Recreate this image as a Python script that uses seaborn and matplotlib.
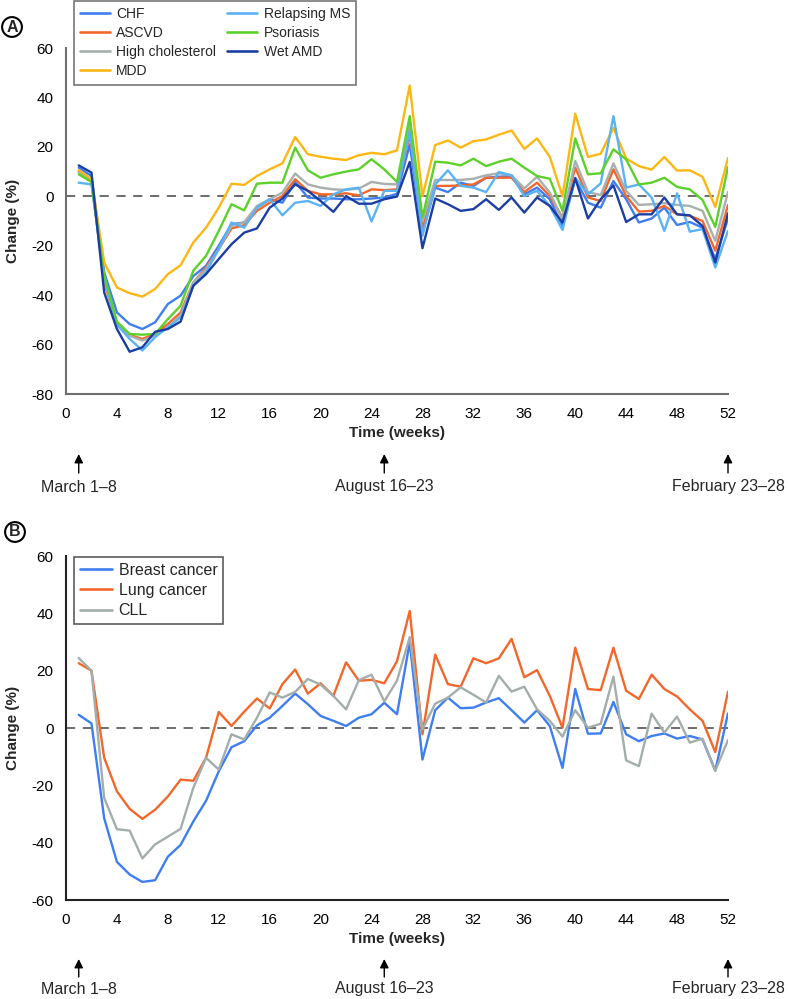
import numpy as np
import pandas as pd
import matplotlib
matplotlib.use("Agg")
import matplotlib.pyplot as plt
import matplotlib.transforms as mtransforms
from matplotlib.lines import Line2D
import seaborn as sns

sns.set_style("white")
plt.rcParams['font.family'] = ['Liberation Sans', 'DejaVu Sans']
plt.rcParams['axes.unicode_minus'] = False

weeks = list(range(1, 53))

# ---------- Panel A ----------
names_a = ["CHF", "ASCVD", "High cholesterol", "MDD", "Relapsing MS", "Psoriasis", "Wet AMD"]
colors_a = ["#3f7ef0", "#f4672a", "#a7b0af", "#fdb714", "#5ab3f4", "#5cd12a", "#1b3ea3"]

chf = [11.6, 8.2, -30.8, -47, -51.7, -53.7, -51, -43.6, -40.2, -32.3, -28.1, -20, -11.3, -10.6,
       -4.6, -1.2, -2.6, 5.8, -0.5, -0.9, -0.9, -1.2, -1.2, -0.9, -0.5, 1.0, 21, -14.7, 3.5, 1.7,
       5.5, 4.2, 7.5, 7.9, 8.2, 0.8, 3.5, -1.2, -12, 6.9, -2.6, -4.6, 6.2, -1.2, -10.6, -9, -4.6,
       -11.6, -10.4, -12.7, -25.4, -9]
ascvd = [10.2, 6.2, -34.9, -51.7, -56.1, -57.7, -55.7, -51.7, -47, -34.9, -28.8, -21.4, -13, -11.7,
         -5.9, -2.6, 0.1, 6.9, 2.2, 0.8, 0.8, 1.2, 0.4, 2.8, 2.5, 2.8, 25, -12.7, 4.2, 4.2, 4.4, 4.8,
         7.5, 7.5, 7.5, 1.7, 5.5, 0.1, -8.6, 11.6, -0.5, -1.9, 10.9, 0.1, -6.2, -5.9, -3.9, -7.3,
         -7.9, -10, -22, -3.5]
chol = [9.6, 6.2, -33.5, -52, -56.4, -58.4, -56.4, -53, -48.3, -34.9, -29.5, -21.4, -12, -10.6,
        -3.9, -1.2, 1.5, 9.2, 4.8, 3.5, 2.8, 2.6, 3.1, 5.8, 5.0, 4.8, 29, -10, 6.6, 6.6, 6.6, 7.1,
        8.5, 9.3, 8.5, 3.2, 7.9, 1.5, -9.3, 14.3, 1.7, 0.5, 13.3, 2.2, -3.5, -3.2, -2.8, -3.5,
        -3.9, -5.9, -18, 1.7]
mdd = [10.6, 6.9, -26.8, -36.9, -39.2, -40.6, -37.5, -31.5, -27.9, -18.7, -12.7, -4.6, 5.1, 4.6,
       8.2, 10.9, 13.3, 24, 17, 16, 15.2, 14.7, 16.6, 17.6, 17, 18.6, 44.8, 0, 20.7, 22.6, 19.7,
       22.3, 23, 24.9, 26.6, 19.2, 23.4, 16, 0, 33.4, 15.9, 17.2, 27.7, 15.3, 12.2, 10.8, 15.9,
       10.4, 10.5, 7.9, -4.3, 15.5]
rms = [5.5, 4.8, -33, -52, -57.7, -62.4, -57, -53, -49, -36.2, -30.8, -21.4, -10.6, -12.7, -4.6,
       -1.2, -7.7, -2.6, -1.9, -3.9, 0.8, 2.8, 3.5, -10.2, 2.2, 2.2, 26.4, -16, 4.8, 10.5, 4.2, 3.5,
       1.7, 9.8, 8.5, 0.1, 2.2, -3.9, -13.6, 7.5, 0.8, 5.2, 32.4, 3.5, 4.8, -0.5, -14, 1.2, -14.3,
       -13.3, -28.8, -14]
psoriasis = [8.9, 5.8, -32, -50.7, -55.7, -56, -55.7, -49.7, -44.3, -30.1, -24.1, -14, -3.2, -5.7,
             5.1, 5.5, 5.5, 19.7, 10.5, 7.5, 8.9, 10, 10.9, 15, 10.9, 5.8, 32.4, -8.6, 14, 13.6,
             12.5, 15.2, 12.2, 14, 15.2, 11.6, 8.2, 7.1, -5.9, 23.4, 8.9, 9.3, 19, 14.9, 4.8, 5.5,
             7.5, 3.8, 2.8, -1.5, -12.4, 11.8]
wetamd = [12.5, 9.6, -38.9, -53.7, -62.9, -61.1, -54.8, -53.7, -50.7, -36.2, -31.5, -25.4, -19.4,
          -14.7, -13, -4.6, -0.9, 4.8, 2.2, -1.9, -6.3, 0.1, -3, -3, -1.2, -0.1, 13.9, -21, -0.9,
          -3.2, -5.9, -5.2, -1.2, -5.5, -0.5, -6.6, -0.5, -3.9, -10.6, 7.3, -9, -1.2, 4.4, -10.4,
          -7.3, -7.3, -0.5, -7.3, -7.7, -12, -26.8, -6.9]
series_a = [chf, ascvd, chol, mdd, rms, psoriasis, wetamd]

# ---------- Panel B ----------
names_b = ["Breast cancer", "Lung cancer", "CLL"]
colors_b = ["#3f7ef0", "#f4672a", "#a3aeac"]

breast = [4.6, 1.6, -31.5, -46.7, -51.1, -53.7, -53.1, -44.9, -40.8, -32.6, -25.4, -15.1, -6.7,
          -4.6, 0.9, 3.6, 7.7, 12, 8.3, 4.2, 2.5, 0.7, 3.6, 4.8, 8.8, 4.8, 29.9, -11, 6.2, 10.6,
          6.9, 7.1, 8.9, 10.4, 6.2, 1.9, 6.2, 0.7, -13.9, 13.6, -2, -1.9, 9.1, -2.2, -4.6, -2.8,
          -1.9, -3.7, -2.8, -4, -14.9, 5.1]
lung = [22.6, 20, -10.4, -22.1, -28.2, -31.7, -28.5, -23.9, -18, -18.4, -10.4, 5.6, 0.7, 5.7,
        10.3, 6.8, 15.3, 20.4, 12, 15.6, 11.2, 22.9, 16.5, 16.8, 15.6, 23.3, 40.8, -2.2, 25.6, 15.3,
        14.4, 24.3, 22.6, 24.3, 31.1, 17.7, 20.2, 11.2, 0.1, 28, 13.6, 13.2, 28, 13, 10.1, 18.6,
        13.6, 11, 6.5, 2.5, -8.4, 12.7]
cll = [24.4, 20, -24.4, -35.3, -35.8, -45.5, -40.6, -37.9, -35.2, -20.9, -10.4, -14.5, -2.2, -4,
       3.6, 12.4, 10.6, 12.6, 17.1, 15.1, 11.2, 6.5, 16.7, 18.6, 9.3, 16.5, 31.7, -0.5, 8.5, 10.6,
       14.2, 11.6, 8.9, 18.2, 12.7, 14.4, 6.5, 2.5, -3, 6.2, 0.1, 1.5, 17.9, -11.3, -13.3, 5, -1.6,
       4, -5.1, -3.7, -14.9, -4.2]
series_b = [breast, lung, cll]

xticks = list(range(0, 53, 4))
yticks_a = [-80, -60, -40, -20, 0, 20, 40, 60]
yticks_b = [-60, -40, -20, 0, 20, 40, 60]
arrow_weeks = [1, 25, 52]
arrow_labels = ["March 1\u20138", "August 16\u201323", "February 23\u201328"]


def long_df(names, series):
    rows = []
    for n, s in zip(names, series):
        for w, v in zip(weeks, s):
            rows.append((n, w, v))
    return pd.DataFrame(rows, columns=["series", "week", "change"])


W, H = 788, 999
fig = plt.figure(figsize=(W / 100, H / 100), dpi=100)

ax_a = fig.add_axes([66 / W, 1 - 394 / H, 662 / W, 346 / H])
ax_b = fig.add_axes([66 / W, 1 - 900 / H, 662 / W, 344 / H])


def style_axis(ax, yticks, ylim, spine_color, names, colors, series, arrow_y):
    df = long_df(names, series)
    ax.axhline(0, color="#444444", lw=1.1, dashes=(6, 5), zorder=1)
    sns.lineplot(data=df, x="week", y="change", hue="series", hue_order=names,
                 palette=dict(zip(names, colors)), linewidth=1.7, legend=False,
                 ax=ax, zorder=2)
    ax.set_xlim(0, 52)
    ax.set_ylim(*ylim)
    ax.set_xticks(xticks)
    ax.set_yticks(yticks)
    ax.set_xticklabels([str(t) for t in xticks])
    ax.set_yticklabels([str(t) for t in yticks])
    for side in ["top", "right"]:
        ax.spines[side].set_visible(False)
    for side in ["left", "bottom"]:
        ax.spines[side].set_color(spine_color)
        ax.spines[side].set_linewidth(1.5)
    ax.tick_params(axis="both", direction="out", length=6, width=1.1, color=spine_color,
                   labelsize=11, pad=3, labelcolor="black")
    ax.set_xlabel("Time (weeks)", fontsize=11, fontweight="bold")
    ax.set_ylabel("Change (%)", fontsize=11, fontweight="bold")
    ax.xaxis.set_label_coords(0.5, arrow_y["xlabel"])
    ax.xaxis.label.set_verticalalignment("center")
    ax.yaxis.set_label_coords(arrow_y["ylabel"], 0.5)
    ax.yaxis.label.set_verticalalignment("center")
    trans = mtransforms.blended_transform_factory(ax.transData, ax.transAxes)
    for w, lab in zip(arrow_weeks, arrow_labels):
        ax.annotate("", xy=(w, arrow_y["tip"]), xycoords=trans,
                    xytext=(w, arrow_y["tail"]), textcoords=trans,
                    arrowprops=dict(arrowstyle="-|>", color="black", lw=1.0,
                                    mutation_scale=13, shrinkA=0, shrinkB=0),
                    annotation_clip=False)
        ax.text(w, arrow_y["text"], lab, transform=trans, ha="center", va="center",
                fontsize=11.5, clip_on=False)


style_axis(ax_a, yticks_a, (-80, 60), "#6e6e6e", names_a, colors_a, series_a,
           {"tip": (394 - 454) / 346, "tail": (394 - 473) / 346, "text": (394 - 487) / 346,
            "xlabel": (394 - 433) / 346, "ylabel": (13 - 66) / 662})
style_axis(ax_b, yticks_b, (-60, 60), "#222222", names_b, colors_b, series_b,
           {"tip": (900 - 959) / 344, "tail": (900 - 977) / 344, "text": (900 - 989) / 344,
            "xlabel": (900 - 939) / 344, "ylabel": (13 - 66) / 662})

# Legends
handles_a = [Line2D([0], [0], color=c, lw=1.9) for c in colors_a]
leg_a = ax_a.legend(handles_a, names_a, ncol=2, loc="upper left",
                    bbox_to_anchor=(74 / W, 1 - 1 / H), bbox_transform=fig.transFigure,
                    fontsize=10, frameon=True, fancybox=False, borderaxespad=0,
                    handlelength=2.15, handletextpad=0.45, columnspacing=0.8,
                    labelspacing=0.36, borderpad=0.45)
leg_a.get_frame().set_edgecolor("#555555")
leg_a.get_frame().set_linewidth(1.2)

handles_b = [Line2D([0], [0], color=c, lw=1.9) for c in colors_b]
leg_b = ax_b.legend(handles_b, names_b, loc="upper left",
                    bbox_to_anchor=(74 / W, 1 - 557 / H), bbox_transform=fig.transFigure,
                    fontsize=11.5, frameon=True, fancybox=False, borderaxespad=0,
                    handlelength=2.05, handletextpad=0.4, labelspacing=0.33, borderpad=0.35)
leg_b.get_frame().set_edgecolor("#333333")
leg_b.get_frame().set_linewidth(1.2)

# Panel letters
for letter, (px, py) in [("A", (12, 27)), ("B", (15, 532))]:
    fig.text(px / W, 1 - py / H, letter, ha="center", va="center", fontsize=11.5,
             fontweight="bold",
             bbox=dict(boxstyle="circle,pad=0.15", fc="white", ec="black", lw=1.5))

fig.savefig("out.png", dpi=100)
